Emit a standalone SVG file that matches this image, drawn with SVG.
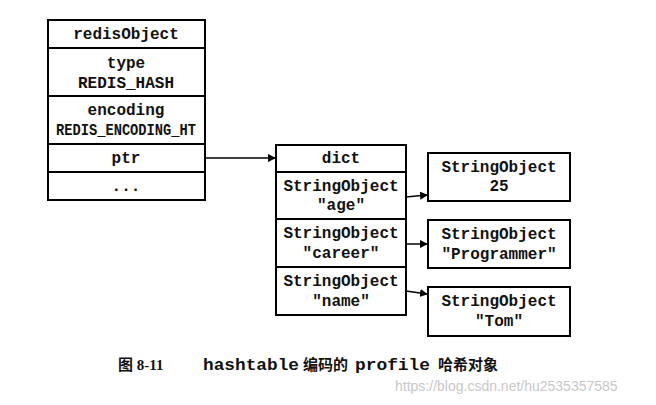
<svg xmlns="http://www.w3.org/2000/svg" width="656" height="405" viewBox="0 0 656 405">
<defs>
<style>
rect{fill:#fff;stroke:#000;stroke-width:2}
text{font-family:"Liberation Mono",monospace;font-size:16px;font-weight:bold;text-anchor:middle;fill:#111}
.c{stroke:#000;stroke-width:1.5;fill:none}
.cap{font-family:"Liberation Serif","Noto Sans CJK SC",serif;font-size:15px;text-anchor:start}
.m{font-family:"Liberation Mono",monospace;font-size:16px}
</style>
<marker id="a" markerWidth="8" markerHeight="8" refX="7" refY="4" orient="auto" markerUnits="userSpaceOnUse"><path d="M0,0 L8,4 L0,8 z" fill="#000"/></marker>
</defs>
<rect x="0" y="0" width="656" height="405" style="stroke:none"/>
<g id="redisObject">
<rect x="48" y="20" width="157" height="28"/><text x="126" y="39">redisObject</text>
<rect x="48" y="48" width="157" height="48"/><text x="126" y="68">type</text><text x="126" y="88">REDIS_HASH</text>
<rect x="48" y="96" width="157" height="48"/><text x="126" y="115">encoding</text><text x="126" y="135" textLength="140" lengthAdjust="spacingAndGlyphs">REDIS_ENCODING_HT</text>
<rect x="48" y="144" width="157" height="28"/><text x="126" y="163">ptr</text>
<rect x="48" y="172" width="157" height="28"/><text x="126" y="191">...</text>
</g>
<g id="dict">
<rect x="276" y="145" width="130" height="27"/><text x="341" y="163">dict</text>
<rect x="276" y="172" width="130" height="47"/><text x="341" y="191">StringObject</text><text x="341" y="210">"age"</text>
<rect x="276" y="219" width="130" height="48"/><text x="341" y="238">StringObject</text><text x="341" y="258">"career"</text>
<rect x="276" y="267" width="130" height="48"/><text x="341" y="286">StringObject</text><text x="341" y="306">"name"</text>
</g>
<g id="v25"><rect x="428" y="153" width="142" height="48"/><text x="499" y="172">StringObject</text><text x="499" y="191">25</text></g>
<g id="vProg"><rect x="428" y="220" width="142" height="48"/><text x="499" y="239">StringObject</text><text x="499" y="259">"Programmer"</text></g>
<g id="vTom"><rect x="428" y="287" width="142" height="49"/><text x="499" y="306">StringObject</text><text x="499" y="326">"Tom"</text></g>
<g id="connectors">
<line class="c" x1="205" y1="158" x2="275" y2="158" marker-end="url(#a)"/>
<line class="c" x1="406" y1="197" x2="427" y2="195" marker-end="url(#a)"/>
<line class="c" x1="406" y1="244" x2="427" y2="244" marker-end="url(#a)"/>
<line class="c" x1="406" y1="291" x2="427" y2="294" marker-end="url(#a)"/>
</g>
<text class="cap" x="118" y="370" xml:space="preserve">图 8-11<tspan x="203" class="m" textLength="96" lengthAdjust="spacingAndGlyphs">hashtable</tspan><tspan x="303">编码的</tspan><tspan x="355" class="m" textLength="75" lengthAdjust="spacingAndGlyphs">profile</tspan><tspan x="438">哈希对象</tspan></text>
<text x="395" y="391" style="font-family:'Liberation Sans',sans-serif;font-weight:normal;font-size:14px;fill:#c8c8c8;text-anchor:start">https://blog.csdn.net/hu2535357585</text>
</svg>
